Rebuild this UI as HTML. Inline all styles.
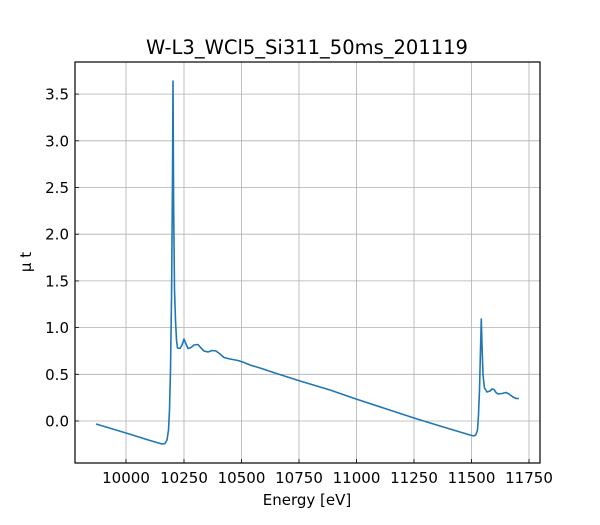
<!DOCTYPE html>
<html><head><meta charset="utf-8"><style>
body{margin:0;background:#fff}
svg text{font-family:"DejaVu Sans","Liberation Sans",sans-serif;fill:#000}
</style></head><body>
<svg width="600" height="520" viewBox="0 0 600 520" xmlns="http://www.w3.org/2000/svg">
<rect width="600" height="520" fill="#fff"/>
<g stroke="#b0b0b0" stroke-width="0.8">
<line x1="126" y1="62" x2="126" y2="463"/><line x1="184" y1="62" x2="184" y2="463"/>
<line x1="241.5" y1="62" x2="241.5" y2="463"/><line x1="299" y1="62" x2="299" y2="463"/>
<line x1="356.5" y1="62" x2="356.5" y2="463"/><line x1="414" y1="62" x2="414" y2="463"/>
<line x1="471.5" y1="62" x2="471.5" y2="463"/><line x1="529" y1="62" x2="529" y2="463"/>
<line x1="75" y1="421" x2="540" y2="421"/><line x1="75" y1="374.3" x2="540" y2="374.3"/>
<line x1="75" y1="327.6" x2="540" y2="327.6"/><line x1="75" y1="280.9" x2="540" y2="280.9"/>
<line x1="75" y1="234.2" x2="540" y2="234.2"/><line x1="75" y1="187.5" x2="540" y2="187.5"/>
<line x1="75" y1="140.8" x2="540" y2="140.8"/><line x1="75" y1="94.1" x2="540" y2="94.1"/>
</g>
<path fill="none" stroke="#1f77b4" stroke-width="1.6" stroke-linejoin="round" d="M96,424 L126,433 L150,440.5 L162,444 L165,443.5 L167,440 L168.5,430 L169.5,410 L170.5,370 L171.5,300 L172.5,180 L173,81 L173.6,200 L174.5,290 L175.5,320 L176.5,340 L177.5,348 L180,348.5 L182,345 L184,339 L186,344 L188,348.5 L191,347.5 L194,345 L198,344.5 L201,348 L204,351 L208,352 L212,350.5 L216,351 L220,354 L224,357.5 L230,359 L238,360.5 L244,362.5 L250,365 L260,368 L275,373 L300,381 L330,390 L356,399 L385,408.5 L414,418 L440,426 L460,432 L470,435 L474,436 L476,434.5 L477.5,430 L478.5,415 L479.5,390 L480.5,350 L481.3,319 L482,345 L483,375 L484.5,388 L487,392 L490,391 L492,389 L494,389.5 L496,392.5 L498,394 L502,393.5 L506,392.5 L509,394 L513,397 L516,398.5 L519,398.5"/>
<rect x="75" y="62" width="465" height="401" fill="none" stroke="#000" stroke-width="1.2"/>
<g stroke="#000" stroke-width="0.8">
<line x1="126" y1="463" x2="126" y2="459"/><line x1="184" y1="463" x2="184" y2="459"/>
<line x1="241.5" y1="463" x2="241.5" y2="459"/><line x1="299" y1="463" x2="299" y2="459"/>
<line x1="356.5" y1="463" x2="356.5" y2="459"/><line x1="414" y1="463" x2="414" y2="459"/>
<line x1="471.5" y1="463" x2="471.5" y2="459"/><line x1="529" y1="463" x2="529" y2="459"/>
<line x1="75" y1="421" x2="79" y2="421"/><line x1="75" y1="374.3" x2="79" y2="374.3"/>
<line x1="75" y1="327.6" x2="79" y2="327.6"/><line x1="75" y1="280.9" x2="79" y2="280.9"/>
<line x1="75" y1="234.2" x2="79" y2="234.2"/><line x1="75" y1="187.5" x2="79" y2="187.5"/>
<line x1="75" y1="140.8" x2="79" y2="140.8"/><line x1="75" y1="94.1" x2="79" y2="94.1"/>
</g>
<g font-size="15" text-anchor="middle">
<text x="126" y="483">10000</text><text x="184" y="483">10250</text><text x="241.5" y="483">10500</text>
<text x="299" y="483">10750</text><text x="356.5" y="483">11000</text><text x="414" y="483">11250</text>
<text x="471.5" y="483">11500</text><text x="529" y="483">11750</text>
</g>
<g font-size="15" text-anchor="end">
<text x="69" y="426.5">0.0</text><text x="69" y="379.8">0.5</text><text x="69" y="333.1">1.0</text>
<text x="69" y="286.4">1.5</text><text x="69" y="239.7">2.0</text><text x="69" y="193">2.5</text>
<text x="69" y="146.3">3.0</text><text x="69" y="99.6">3.5</text>
</g>
<text x="307" y="505" font-size="15" text-anchor="middle">Energy [eV]</text>
<text transform="translate(31,262) rotate(-90)" font-size="15" text-anchor="middle">μ t</text>
<text x="307" y="54" font-size="19.5" text-anchor="middle">W-L3_WCl5_Si311_50ms_201119</text>
</svg>
</body></html>
